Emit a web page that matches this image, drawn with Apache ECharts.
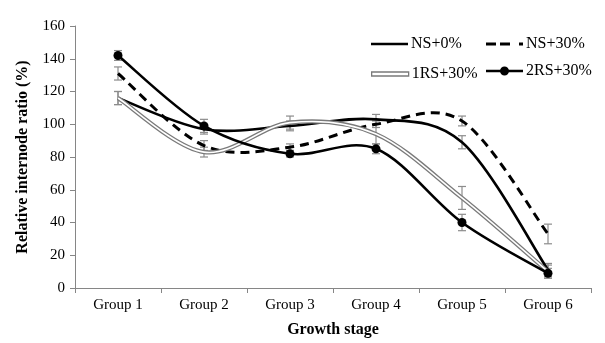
<!DOCTYPE html>
<html>
<head>
<meta charset="utf-8">
<script src="https://cdn.jsdelivr.net/npm/echarts@6/dist/echarts.min.js"></script>
<style>
  html, body { margin: 0; padding: 0; background: #fff; }
  #chart { width: 605px; height: 343px; }
</style>
</head>
<body>
<div id="chart"></div>
<script>
// Growth stages on the x axis
const stages = ['Group 1', 'Group 2', 'Group 3', 'Group 4', 'Group 5', 'Group 6'];

// Relative internode ratio (%) per treatment
const ns0    = [116, 97, 99, 103, 89, 11];
const ns30   = [131, 87, 86, 100, 102, 33];
const rs1_30 = [116, 83, 101, 94, 55, 10];
const rs2_30 = [142, 99, 82, 85, 40, 9];

// Error bar half-widths (±)
const ns0Err    = [4, 3, 3, 3, 4, 4];
const ns30Err   = [4, 3, 2, 2, 3, 6];
const rs1_30Err = [4, 3, 4, 6, 7, 4];
const rs2_30Err = [3, 4, 2, 3, 5, 3];

// Y axis ticks
const yMin = 0, yMax = 160, yStep = 20;

const FONT = 'Liberation Serif, Times New Roman, serif';

// Cardinal (Catmull-Rom) spline through the projected points, as a path string
function splinePath(pts) {
  const n = pts.length;
  let d = 'M' + pts[0][0] + ',' + pts[0][1];
  for (let i = 0; i < n - 1; i++) {
    const p0 = pts[Math.max(i - 1, 0)];
    const p1 = pts[i];
    const p2 = pts[i + 1];
    const p3 = pts[Math.min(i + 2, n - 1)];
    const c1x = p1[0] + (p2[0] - p0[0]) / 6;
    const c1y = p1[1] + (p2[1] - p0[1]) / 6;
    const c2x = p2[0] - (p3[0] - p1[0]) / 6;
    const c2y = p2[1] - (p3[1] - p1[1]) / 6;
    d += ' C' + c1x + ',' + c1y + ' ' + c2x + ',' + c2y + ' ' + p2[0] + ',' + p2[1];
  }
  return d;
}

// A smoothed line series; the whole curve is drawn with the first item,
// markers (if any) are drawn per item.
function curveSeries(name, vals, strokes, marker, z) {
  return {
    name: name,
    type: 'custom',
    z: z,
    silent: true,
    itemStyle: { color: strokes[0].stroke },
    data: vals.map((v, i) => [i, v]),
    encode: { x: 0, y: 1 },
    renderItem: function (params, api) {
      const children = [];
      if (params.dataIndex === 0) {
        const pts = vals.map((v, i) => api.coord([i, v]));
        const d = splinePath(pts);
        strokes.forEach(s => {
          children.push({
            type: 'path',
            shape: { pathData: d },
            style: Object.assign({ fill: 'none', lineCap: 'butt', lineJoin: 'round' }, s)
          });
        });
      }
      if (marker) {
        const p = api.coord([api.value(0), api.value(1)]);
        children.push({
          type: 'circle',
          shape: { cx: p[0], cy: p[1], r: marker },
          style: { fill: '#000' }
        });
      }
      return { type: 'group', children: children };
    }
  };
}

function errorBarSeries(vals, errs) {
  return {
    type: 'custom',
    z: 1,
    silent: true,
    data: vals.map((v, i) => [i, v - errs[i], v + errs[i]]),
    encode: { x: 0, y: [1, 2] },
    renderItem: function (params, api) {
      const lo = api.coord([api.value(0), api.value(1)]);
      const hi = api.coord([api.value(0), api.value(2)]);
      const w = 4;
      const style = { stroke: '#8c8c8c', lineWidth: 1.2 };
      return {
        type: 'group',
        children: [
          { type: 'line', shape: { x1: lo[0], y1: lo[1], x2: hi[0], y2: hi[1] }, style },
          { type: 'line', shape: { x1: lo[0] - w, y1: lo[1], x2: lo[0] + w, y2: lo[1] }, style },
          { type: 'line', shape: { x1: hi[0] - w, y1: hi[1], x2: hi[0] + w, y2: hi[1] }, style }
        ]
      };
    }
  };
}

const textStyle = { fontFamily: FONT, fontSize: 16, color: '#000' };

function legendAt(item, left, top, h) {
  return {
    data: [item],
    left: left, top: top,
    padding: 0,
    itemWidth: 37, itemHeight: h,
    itemGap: 3,
    selectedMode: false,
    textStyle: Object.assign({}, textStyle, { padding: [0, 0, 0, -2] })
  };
}

const option = {
  animation: false,
  backgroundColor: '#fff',
  grid: { left: 75, right: 14, top: 26, bottom: 54 },
  legend: [
    legendAt({ name: 'NS+0%', icon: 'rect', itemStyle: { color: '#000', borderWidth: 0 } },
             371, 36, 2.6),
    legendAt({ name: 'NS+30%', icon: 'path://M0,0h10v3h-10z M14,0h10v3h-10z M33,0h4v3h-4z',
               itemStyle: { color: '#000', borderWidth: 0 } },
             486, 36, 3),
    legendAt({ name: '1RS+30%', icon: 'rect',
               itemStyle: { color: '#fff', borderColor: '#7a7a7a', borderWidth: 1.3 } },
             371, 66, 4),
    legendAt({ name: '2RS+30%',
               icon: 'path://M0,3.2h37v2.6h-37z M14,4.5a4.5,4.5 0 1,1 9,0a4.5,4.5 0 1,1 -9,0z',
               itemStyle: { color: '#000', borderWidth: 0 } },
             486, 63, 9)
  ],
  xAxis: {
    type: 'category',
    data: stages,
    boundaryGap: true,
    name: 'Growth stage',
    nameLocation: 'middle',
    nameGap: 34,
    nameTextStyle: { fontFamily: FONT, fontSize: 16, fontWeight: 'bold', color: '#000' },
    axisLine: { lineStyle: { color: '#868686', width: 1 } },
    axisTick: { show: true, inside: false, length: 5, lineStyle: { color: '#868686' } },
    axisLabel: { fontFamily: FONT, fontSize: 15, color: '#000', margin: 10 },
    splitLine: { show: false }
  },
  yAxis: {
    type: 'value',
    min: yMin, max: yMax, interval: yStep,
    name: 'Relative internode ratio (%)',
    nameLocation: 'middle',
    nameGap: 44,
    nameRotate: 90,
    nameTextStyle: { fontFamily: FONT, fontSize: 16, fontWeight: 'bold', color: '#000' },
    axisLine: { show: true, lineStyle: { color: '#868686', width: 1 } },
    axisTick: { show: true, inside: false, length: 5, lineStyle: { color: '#868686' } },
    axisLabel: { fontFamily: FONT, fontSize: 15, color: '#000', margin: 10 },
    splitLine: { show: false }
  },
  series: [
    errorBarSeries(ns0, ns0Err),
    errorBarSeries(ns30, ns30Err),
    errorBarSeries(rs1_30, rs1_30Err),
    errorBarSeries(rs2_30, rs2_30Err),
    curveSeries('NS+0%', ns0, [{ stroke: '#000', lineWidth: 2.6 }], 0, 3),
    curveSeries('NS+30%', ns30, [{ stroke: '#000', lineWidth: 3, lineDash: [9, 6] }], 0, 3),
    curveSeries('1RS+30%', rs1_30,
      [{ stroke: '#7a7a7a', lineWidth: 4.2 }, { stroke: '#fff', lineWidth: 1.6 }], 0, 4),
    curveSeries('2RS+30%', rs2_30, [{ stroke: '#000', lineWidth: 2.6 }], 4.5, 5)
  ]
};

const chart = echarts.init(document.getElementById('chart'), null, { renderer: 'canvas' });
chart.setOption(option);
</script>
</body>
</html>
